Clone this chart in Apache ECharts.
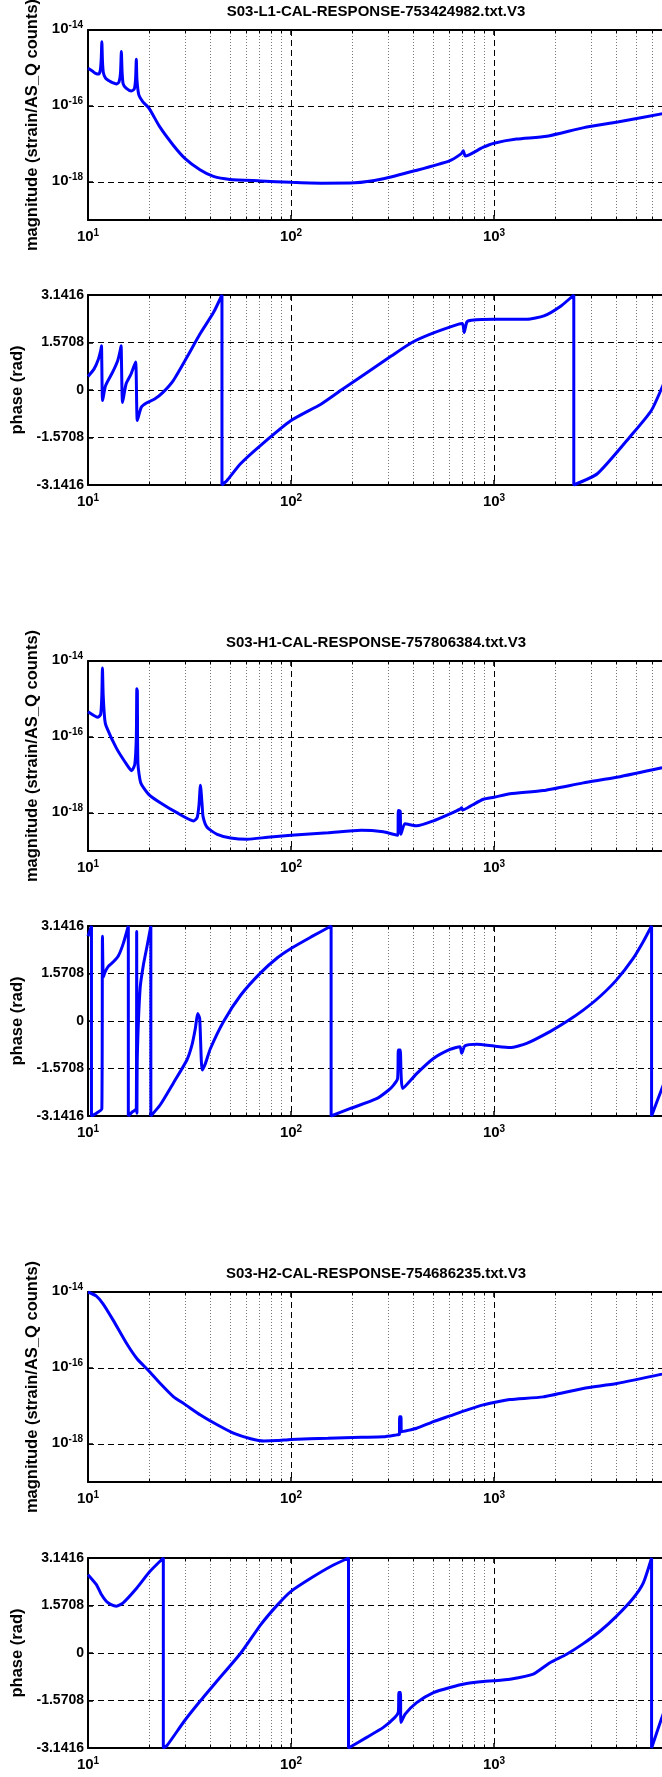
<!DOCTYPE html>
<html>
<head>
<meta charset="utf-8">
<script src="https://cdn.jsdelivr.net/npm/echarts@6/dist/echarts.min.js"></script>
<style>
html, body { margin: 0; padding: 0; background: #fff; overflow: hidden; }
#chart { width: 720px; height: 1777px; }
</style>
</head>
<body>
<div id="chart"></div>
<script>
// titles of the three calibration files
var titles = [
    'S03-L1-CAL-RESPONSE-753424982.txt.V3',
    'S03-H1-CAL-RESPONSE-757806384.txt.V3',
    'S03-H2-CAL-RESPONSE-754686235.txt.V3'
];
var magTickExp = [-18, -16, -14];

// L1 magnitude (strain/AS_Q counts) vs frequency (Hz)
var l1MagFreq = [10, 10.5, 10.9, 11.3, 11.5, 11.62, 11.7, 11.78, 11.9, 12.2, 12.7, 13.2, 13.8, 14.2, 14.45, 14.6, 14.72, 14.9, 15.4, 16.3,
    16.9, 17.15, 17.3, 17.42, 17.8, 18.6, 20, 22.5, 26.3, 30, 35.6, 41.5, 50, 71, 100, 141, 206, 281, 411, 603,
    688, 706, 722, 881, 1000, 1291, 1820, 2775, 4063, 7100, 10000];
var l1Mag = [9.8e-16, 8.3e-16, 7.2e-16, 6.9e-16, 8.9e-16, 1.78e-15, 4.9e-15, 1.58e-15, 7.6e-16, 5.4e-16, 4.6e-16, 4.1e-16, 3.8e-16, 4.2e-16, 7.1e-16, 2.7e-15, 7.9e-16, 3.8e-16, 2.95e-16, 2.5e-16,
    2.8e-16, 5.0e-16, 1.7e-15, 5.0e-16, 1.95e-16, 1.3e-16, 8.7e-17, 2.9e-17, 9.3e-18, 4.2e-18, 2.1e-18, 1.4e-18, 1.17e-18, 1.07e-18, 9.8e-19, 9.3e-19, 9.5e-19, 1.2e-18, 2.0e-18, 3.6e-18,
    5.5e-18, 6.6e-18, 4.8e-18, 8.1e-18, 1.05e-17, 1.35e-17, 1.6e-17, 2.7e-17, 3.8e-17, 6.6e-17, 9.3e-17];

// L1 phase (rad)
var l1PhaseFreq = [10, 10.7, 11.25, 11.55, 11.65, 11.8, 12.2, 13.2, 14.0, 14.4, 14.55, 14.8, 15.4, 16.3, 17.15, 17.5, 18.3, 19.4, 21.3, 23.4,
    26.3, 30.7, 35.6, 41.5, 45.7, 45.7, 48.4, 56.4, 70.9, 100, 141, 177, 313, 394, 500, 670, 700, 713, 735, 774,
    1000, 1452, 1762, 2139, 2472, 2472, 3228, 4645, 5957, 7100, 7500];
var l1Phase = [0.45, 0.69, 1.02, 1.3, 1.46, -0.35, 0.14, 0.58, 0.97, 1.3, 1.46, -0.41, 0.2, 0.53, 0.93, -1.01, -0.57, -0.43, -0.30, -0.08,
    0.31, 1.08, 1.85, 2.56, 3.1416, -3.1416, -2.99, -2.44, -1.83, -1.01, -0.46, 0, 1.13, 1.5708, 1.88, 2.18, 2.2, 1.90, 2.25, 2.31,
    2.34, 2.34, 2.45, 2.78, 3.1416, -3.1416, -2.77, -1.5708, -0.68, 0.45, 0.8];

// H1 magnitude
var h1MagFreq = [10, 11.2, 11.55, 11.7, 11.78, 11.88, 12.1, 12.3, 13.8, 15.5, 16.4, 17.0, 17.3, 17.4, 17.5, 17.62, 18.2, 19.9, 22.7, 27.4,
    33.2, 34.5, 35.2, 35.8, 36.5, 36.9, 38.6, 43.3, 50.4, 61, 76.7, 100, 152, 222, 285, 319, 336, 338, 345, 348,
    364, 416, 503, 607, 680, 693, 700, 762, 886, 1000, 1199, 1750, 2752, 4020, 6720, 10000];
var h1Mag = [4.6e-16, 3.3e-16, 4.0e-16, 1.26e-15, 6.5e-15, 1.26e-15, 2.8e-16, 1.9e-16, 5.1e-17, 1.9e-17, 1.3e-17, 1.9e-17, 1.0e-16, 1.86e-15, 1.6e-15, 2.0e-17, 6.2e-18, 3.1e-18, 1.86e-18, 1.02e-18,
    6.2e-19, 7.6e-19, 1.58e-18, 5.4e-18, 1.58e-18, 7.9e-19, 4.2e-19, 2.75e-19, 2.2e-19, 2.04e-19, 2.3e-19, 2.6e-19, 3.0e-19, 3.5e-19, 3.2e-19, 2.75e-19, 2.6e-19, 1.17e-18, 1.12e-18, 2.75e-19,
    5.2e-19, 4.6e-19, 6.2e-19, 9.5e-19, 1.26e-18, 1.38e-18, 1.2e-18, 1.5e-18, 2.3e-18, 2.6e-18, 3.2e-18, 3.9e-18, 6.2e-18, 8.7e-18, 1.55e-17, 2.5e-17];

// H1 phase
var h1PhaseFreq = [10, 10.4, 10.4, 11.0, 11.7, 11.78, 11.9, 12.1, 12.56, 13.3, 14.1, 14.9, 15.8, 15.8, 16.6, 17.3, 17.37, 17.42, 17.5, 18.06,
    18.75, 19.6, 20.4, 20.4, 22.7, 26.4, 30.7, 32.5, 33.8, 34.7, 35.5, 36.5, 37.9, 40.1, 46.7, 56.6, 71, 86, 100, 125.6,
    157.6, 157.6, 195, 264, 302, 320, 335, 338, 345, 355, 416, 503, 607, 680, 693, 720, 822, 1000, 1199, 1448,
    1887, 2279, 2752, 3326, 4016, 4858, 5440, 5974, 5974, 6720, 7500];
var h1Phase = [2.8, 3.1416, -3.1416, -3.05, -2.9, 2.8, 1.45, 1.6, 1.8, 1.95, 2.15, 2.55, 3.1416, -3.1416, -3.0, -2.9, 2.96, -3.05, -1.13, 1.08,
    1.86, 2.52, 3.1416, -3.1416, -2.77, -2.04, -1.29, -0.8, -0.24, 0.25, 0.09, -1.62, -1.4, -0.91, 0, 0.86, 1.6, 2.1, 2.4, 2.78,
    3.1416, -3.1416, -2.9, -2.57, -2.29, -2.12, -1.9, -0.96, -0.96, -2.23, -1.74, -1.24, -0.94, -0.85, -1.07, -0.82, -0.77, -0.83, -0.88, -0.74,
    -0.35, -0.02, 0.36, 0.81, 1.36, 2.08, 2.63, 3.1416, -3.1416, -2.23, -1.4];

// H2 magnitude
var h2MagFreq = [10, 11, 11.86, 13.3, 15.5, 17.4, 19.8, 22.7, 26.4, 29.9, 35.8, 43.3, 52.4, 63.3, 73.6, 85.8, 100, 152, 222, 285,
    331, 342, 343, 348, 350, 416, 503, 607, 733, 886, 1000, 1199, 1750, 2752, 4020, 6720, 10000];
var h2Mag = [1.0e-14, 7.8e-15, 4.9e-15, 1.82e-15, 4.4e-16, 1.78e-16, 8.7e-17, 3.9e-17, 1.74e-17, 1.12e-17, 5.8e-18, 3.2e-18, 1.9e-18, 1.38e-18, 1.2e-18, 1.23e-18, 1.32e-18, 1.41e-18, 1.5e-18, 1.55e-18,
    1.74e-18, 1.8e-18, 5.2e-18, 5.2e-18, 2.1e-18, 2.6e-18, 3.9e-18, 5.5e-18, 7.8e-18, 1.07e-17, 1.23e-17, 1.48e-17, 1.74e-17, 2.9e-17, 3.9e-17, 6.9e-17, 1.12e-16];

// H2 phase
var h2PhaseFreq = [10, 11, 11.6, 12.3, 13.0, 13.8, 14.9, 17.4, 20.2, 23.5, 23.5, 24.5, 29.9, 35.8, 43.3, 56.6, 71, 86, 100, 125.6,
    157.6, 192, 192, 236, 285, 325, 338, 340, 346, 348, 365, 416, 503, 607, 733, 886, 1000, 1199, 1561, 1887,
    2279, 2752, 3326, 4016, 4858, 5440, 5974, 5974, 6720, 7500];
var h2Phase = [2.59, 2.26, 1.95, 1.71, 1.6, 1.55, 1.66, 2.15, 2.7, 3.1416, -3.1416, -3.06, -2.24, -1.58, -0.92, 0, 0.94, 1.6, 2.04, 2.48,
    2.87, 3.1416, -3.1416, -2.79, -2.46, -2.13, -1.95, -1.31, -1.31, -2.3, -2.02, -1.64, -1.31, -1.14, -1.01, -0.94, -0.92, -0.87, -0.70, -0.32,
    -0.04, 0.31, 0.72, 1.22, 1.82, 2.32, 3.1416, -3.1416, -2.13, -1.3];

var panels = [
    {magF: l1MagFreq, mag: l1Mag, phF: l1PhaseFreq, ph: l1Phase},
    {magF: h1MagFreq, mag: h1Mag, phF: h1PhaseFreq, ph: h1Phase},
    {magF: h2MagFreq, mag: h2Mag, phF: h2PhaseFreq, ph: h2Phase}
];

// layout (px)
var magTop = [30, 661, 1292];
var phaseTop = [295, 926, 1558];
var titleTop = [4, 635, 1266];
var plotLeft = 88, plotWidth = 609, plotHeight = 190;

var font = '"Liberation Sans", Arial, Helvetica, sans-serif';
var dashed = {color: '#000', width: 1, type: [6, 4]};
var dotted = {color: '#777', width: 1, type: [1, 2]};
var expRich = {
    b: {fontSize: 15, fontWeight: 'bold', fontFamily: font, color: '#000', lineHeight: 16, verticalAlign: 'bottom'},
    s: {fontSize: 10, fontWeight: 'bold', fontFamily: font, color: '#000', lineHeight: 10, verticalAlign: 'top', padding: [0, 0, 10, 0]}
};

function freqAxis(gi, top) {
    return {
        type: 'log', logBase: 10, gridIndex: gi, min: 10, max: 10000,
        position: top ? 'top' : 'bottom',
        axisLine: {show: true, onZero: false, lineStyle: {color: '#000', width: 2}},
        axisTick: {show: true, inside: true, length: 5, lineStyle: {color: '#000', width: 1.5}},
        minorTick: {show: true, splitNumber: 9, length: 3, lineStyle: {color: '#000', width: 1}},
        axisLabel: top ? {show: false} : {
            show: true, margin: 8, rich: expRich,
            formatter: function (v) { return '{b|10}{s|' + Math.round(Math.log10(v)) + '}'; }
        },
        splitLine: {show: !top, lineStyle: dashed},
        minorSplitLine: {show: !top, lineStyle: dotted}
    };
}

var grids = [], xAxes = [], yAxes = [], series = [], graphics = [];
panels.forEach(function (p, k) {
    var gm = grids.length;
    grids.push({left: plotLeft, top: magTop[k], width: plotWidth, height: plotHeight, containLabel: false, outerBoundsMode: 'none'});
    var gp = grids.length;
    grids.push({left: plotLeft, top: phaseTop[k], width: plotWidth, height: plotHeight, containLabel: false, outerBoundsMode: 'none'});

    [gm, gp].forEach(function (g) {
        xAxes.push(freqAxis(g, false));
        xAxes.push(freqAxis(g, true));
    });

    yAxes.push({
        type: 'value', gridIndex: gm, min: -19, max: -14,
        name: 'magnitude (strain/AS_Q counts)', nameLocation: 'middle', nameGap: 44,
        nameTextStyle: {fontSize: 16.5, fontWeight: 'bold', fontFamily: font, color: '#000'},
        axisLine: {show: true, onZero: false, lineStyle: {color: '#000', width: 2}},
        axisTick: {show: true, inside: true, length: 5, customValues: magTickExp, lineStyle: {color: '#000', width: 1.5}},
        axisLabel: {
            customValues: magTickExp, margin: 5, padding: [0, 0, 4, 0], rich: expRich,
            formatter: function (v) { return '{b|10}{s|' + v + '}'; }
        },
        splitLine: {show: true, lineStyle: dashed}
    });
    yAxes.push({
        type: 'value', gridIndex: gp, min: -Math.PI, max: Math.PI, interval: Math.PI / 2,
        name: 'phase (rad)', nameLocation: 'middle', nameGap: 60,
        nameTextStyle: {fontSize: 16.5, fontWeight: 'bold', fontFamily: font, color: '#000'},
        axisLine: {show: true, onZero: false, lineStyle: {color: '#000', width: 2}},
        axisTick: {show: true, inside: true, length: 5, lineStyle: {color: '#000', width: 1.5}},
        axisLabel: {
            margin: 4, fontSize: 14, fontWeight: 'bold', fontFamily: font, color: '#000',
            formatter: function (v) { return Math.abs(v) < 1e-6 ? '0' : v.toFixed(4); }
        },
        splitLine: {show: true, lineStyle: dashed}
    });

    series.push({
        type: 'line', xAxisIndex: gm * 2, yAxisIndex: gm, symbol: 'none', clip: true, z: 5, smooth: 0.2,
        lineStyle: {color: '#0000ff', width: 3},
        data: p.magF.map(function (f, i) { return [f, Math.log10(p.mag[i])]; })
    });
    series.push({
        type: 'line', xAxisIndex: gp * 2, yAxisIndex: gp, symbol: 'none', clip: true, z: 5, smooth: 0.2,
        lineStyle: {color: '#0000ff', width: 3},
        data: p.phF.map(function (f, i) { return [f, p.ph[i]]; })
    });

    graphics.push({
        type: 'text', x: 376, y: titleTop[k],
        style: {text: titles[k], fill: '#000', font: 'bold 15px ' + font, align: 'center', verticalAlign: 'top'}
    });
});

var chart = echarts.init(document.getElementById('chart'), null, {renderer: 'canvas'});
chart.setOption({
    animation: false,
    backgroundColor: '#fff',
    grid: grids,
    xAxis: xAxes,
    yAxis: yAxes,
    series: series,
    graphic: graphics
});
</script>
</body>
</html>
